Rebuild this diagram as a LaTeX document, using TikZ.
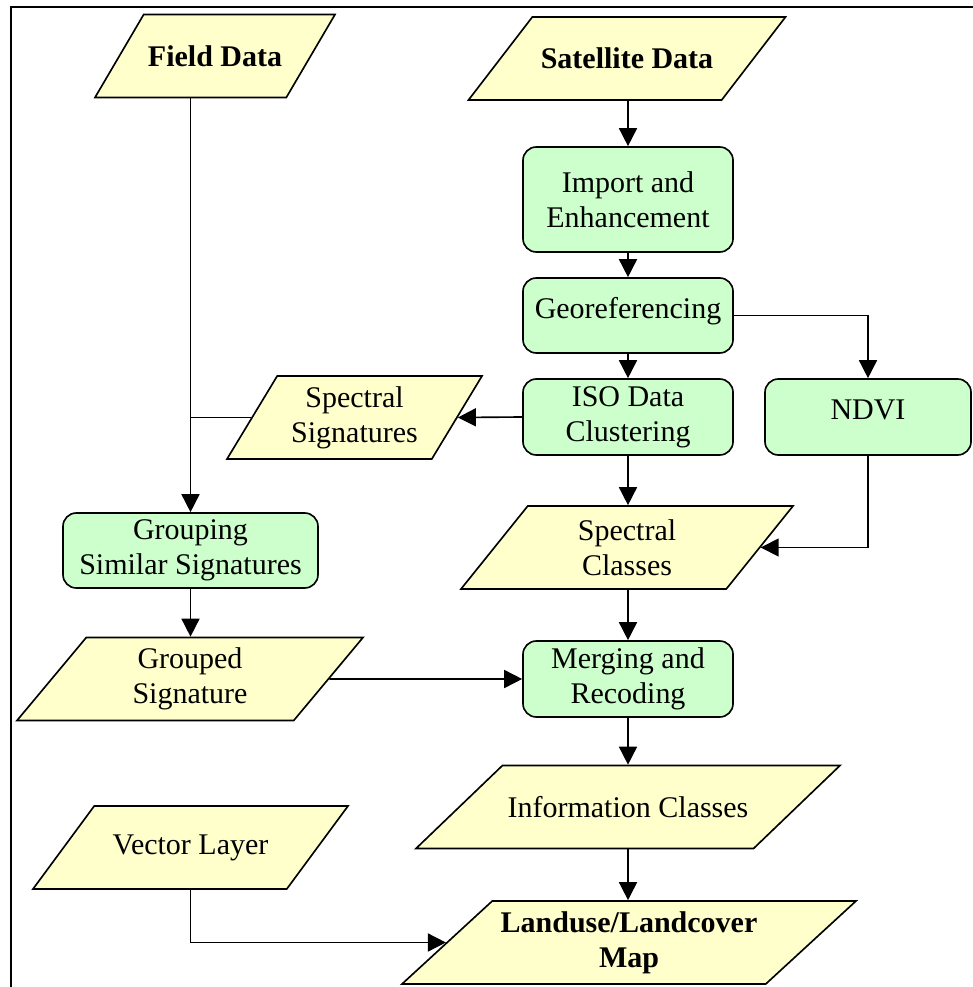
\documentclass[tikz,border=0pt]{standalone}
\usepackage{fontspec}
\setmainfont{Liberation Serif}
\usetikzlibrary{shapes.geometric, arrows.meta}
\definecolor{databg}{HTML}{FFFFCC}
\definecolor{procbg}{HTML}{CCFFCC}
\newcommand{\boxfont}{\fontsize{25.6}{30}\selectfont}
\tikzset{
  process/.style = {draw, rounded corners=4mm, align=center, fill=procbg,
                    line width=1.4pt, minimum width=63mm, font=\boxfont, inner sep=2pt},
  data/.style n args = {3}{draw, trapezium, trapezium left angle=#1,
                    trapezium right angle=#2, trapezium stretches body=true,
                    minimum width=#3, minimum height=24.9mm, fill=databg,
                    align=center, line width=1.4pt, font=\boxfont, inner sep=2pt},
  flow/.style  = {-{Triangle[length=5.4mm, width=5.4mm]}, line width=1.4pt},
  link/.style  = {line width=1.4pt},
  frame/.style = {line width=2.5pt}
}
\begin{document}
\begin{tikzpicture}[x=0.3mm, y=-0.3mm]
\useasboundingbox (0,0) rectangle (972,987);
\draw[frame] (11,7) rectangle (1000,1000);

\node[data={27.9}{152.1}{72mm}, font=\boxfont\bfseries]    at (215  , 56   ) (fld)  {Field Data};
\node[data={22}{158}{95.1mm}, font=\boxfont\bfseries]      at (627  , 58.5 ) (sat)  {Satellite Data};
\node[process, minimum height=31.5mm]                      at (628  , 199.5) (imp)  {Import and\\Enhancement};
\node[process, minimum height=22.5mm, text depth=12.4pt]   at (628  , 315.5) (geo)  {Georeferencing};
\node[process, minimum height=22.8mm]                      at (628  , 417  ) (iso)  {ISO Data\\Clustering};
\node[process, minimum width=61.8mm, minimum height=22.8mm, text depth=12pt] at (868, 417) (ndvi) {NDVI};
\node[data={53.2}{126.8}{76.5mm}]                          at (354.5, 417.5) (ssig) {Spectral\\Signatures};
\node[data={42.4}{137.6}{99.6mm}]                          at (627  , 547.5) (scls) {Spectral\\Classes};
\node[process, minimum width=76.5mm, minimum height=22.5mm] at (190.5, 550.5) (grp) {Grouping\\Similar Signatures};
\node[data={44.1}{135.9}{103.8mm}]                         at (190  , 679  ) (grpd) {Grouped\\Signature};
\node[process, minimum height=22.8mm]                      at (628  , 679  ) (mrg)  {Merging and\\Recoding};
\node[data={16.8}{163.2}{127.2mm}]                         at (628  , 807  ) (info) {Information Classes};
\node[data={26.7}{153.3}{94.5mm}]                          at (190.5, 847.5) (vec)  {Vector Layer};
\node[data={36.6}{143.4}{136.2mm}, font=\boxfont\bfseries] at (629  , 942.5) (land) {Landuse/Landcover\\Map};

\draw[flow] (grp.north |- fld.south) -- (grp.north);
\draw[link] (ssig.180) -- (ssig.180 -| grp.north);
\draw[flow] (iso.west) -- (ssig.0);
\draw[flow] (imp.north |- sat.south) -- (imp.north);
\draw[flow] (imp.south) -- (geo.north);
\draw[flow] (geo.south) -- (iso.north);
\draw[flow] (geo.east) -| (ndvi.north);
\draw[flow] (iso.south) -- (iso.south |- scls.north);
\draw[flow] (ndvi.south) |- (scls.0);
\draw[flow] (mrg.north |- scls.south) -- (mrg.north);
\draw[flow] (grp.south) -- (grp.south |- grpd.north);
\draw[flow] (grpd.0) -- (mrg.west);
\draw[flow] (mrg.south) -- (mrg.south |- info.north);
\draw[flow] (info.south) -- (info.south |- land.north);
\draw[flow] (vec.south) |- (land.180);
\end{tikzpicture}
\end{document}
